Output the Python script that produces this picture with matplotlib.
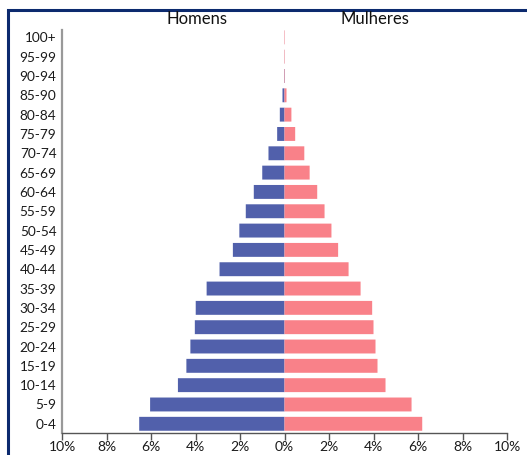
import matplotlib
matplotlib.use("Agg")
import matplotlib.pyplot as plt
from matplotlib.patches import Rectangle

plt.rcParams['font.family'] = ['Lato', 'DejaVu Sans']

faixas = ["0-4", "5-9", "10-14", "15-19", "20-24", "25-29", "30-34", "35-39",
          "40-44", "45-49", "50-54", "55-59", "60-64", "65-69", "70-74",
          "75-79", "80-84", "85-90", "90-94", "95-99", "100+"]
homens = [6.53, 6.04, 4.79, 4.41, 4.23, 4.03, 3.99, 3.50, 2.92, 2.32, 2.03,
          1.74, 1.38, 1.00, 0.72, 0.33, 0.21, 0.09, 0.02, 0.005, 0.003]
mulheres = [6.19, 5.71, 4.54, 4.18, 4.09, 4.00, 3.94, 3.42, 2.88, 2.41, 2.11,
            1.80, 1.47, 1.13, 0.89, 0.48, 0.31, 0.09, 0.02, 0.02, 0.02]
ticks = [-10, -8, -6, -4, -2, 0, 2, 4, 6, 8, 10]

azul = "#5160ab"
rosa = "#f98189"

fig = plt.figure(figsize=(5.27, 4.55), dpi=100)
ax = fig.add_axes([62 / 527, 1 - 432.5 / 455, 445 / 527, 402.5 / 455])

y = list(range(len(faixas)))
ax.barh(y, [-v for v in homens], height=0.72, color=azul, edgecolor="none",
        snap=False)
ax.barh(y, mulheres, height=0.72, color=rosa, edgecolor="none", snap=False)

ax.set_xlim(-10, 10)
ax.set_ylim(-0.45, 20.38)
ax.set_xticks(ticks)
ax.set_xticklabels([f"{abs(t)}%" for t in ticks])
ax.set_yticks(y)
ax.set_yticklabels(faixas)

for s in ["top", "right"]:
    ax.spines[s].set_visible(False)
ax.spines["left"].set_color("#999999")
ax.spines["left"].set_linewidth(1.6)
ax.spines["bottom"].set_color("#555555")
ax.spines["bottom"].set_linewidth(1.0)
ax.tick_params(axis="y", length=0, pad=4, labelsize=9.8, labelcolor="#1a1a1a")
ax.tick_params(axis="x", length=5, width=1, color="#555555", pad=1,
               labelsize=10, labelcolor="#1a1a1a")

# column headers
fig.text(197 / 527, 1 - 19 / 455, "Homens", ha="center", va="center",
         fontsize=12, color="#111111")
fig.text(375 / 527, 1 - 19 / 455, "Mulheres", ha="center", va="center",
         fontsize=12, color="#111111")

# navy frame (top and left edges visible)
fig.patches.append(Rectangle((8 / 527, -0.1), 1.2, 1 - 10 / 455 + 0.1,
                             transform=fig.transFigure, fill=False,
                             edgecolor="#0c2a6e", linewidth=2.2))

fig.savefig("out.png", dpi=100)
